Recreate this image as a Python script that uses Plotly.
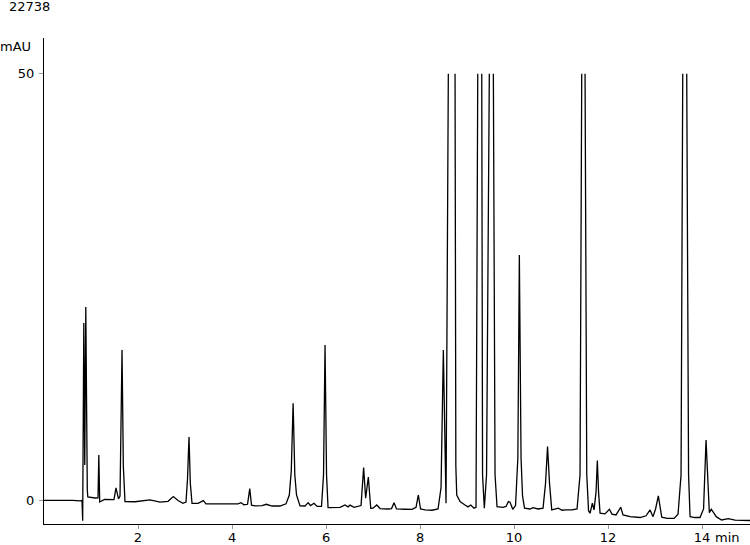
import plotly.graph_objects as go

# Chromatogram trace vertices (time in min, signal in mAU).
# None marks where the tall peaks leave the 50 mAU display window.
time_min = [
    0.00, 0.20, 0.40, 0.60, 0.78, 0.809, 0.823, 0.847, 0.867, 0.889, 0.921, 0.932,
    1.085, 1.149, 1.166, 1.185, 1.287, 1.447, 1.489, 1.532, 1.585, 1.617, 1.660, 1.688, 1.723,
    1.936, 2.255, 2.468, 2.638, 2.751, 2.851, 2.957, 3.021, 3.053, 3.085, 3.113, 3.149,
    3.277, 3.389, 3.447, 3.638, 3.851, 4.128, 4.191, 4.255, 4.330, 4.377, 4.415, 4.489,
    4.638, 4.730, 4.851, 5.021, 5.149, 5.219, 5.261, 5.300, 5.336, 5.372, 5.447,
    5.553, 5.621, 5.670, 5.745, 5.809, 5.904, 5.947, 5.979, 6.011, 6.043,
    6.191, 6.298, 6.404, 6.468, 6.511, 6.596, 6.745, 6.800, 6.843, 6.900, 6.951,
    7.000, 7.079, 7.149, 7.319, 7.394, 7.447, 7.500, 7.681, 7.830, 7.915, 7.964, 8.011,
    8.106, 8.255, 8.383, 8.447, 8.496, 8.553, 8.602, None, 8.745, 8.762, 8.781, 8.851,
    8.957, 9.021, 9.079, 9.149, 9.191, 9.228, None, 9.313, 9.330, 9.368, 9.415, 9.474,
    None, 9.560, 9.596, 9.638, 9.766, 9.830, 9.879, 9.915, 9.972, 10.032, 10.081, 10.113,
    10.149, 10.181, 10.223, 10.340, 10.404, 10.511, 10.617, 10.670, 10.713, 10.755, 10.802,
    10.943, 11.021, 11.106, 11.228, 11.340, 11.404, 11.440, None, 11.511, 11.547, 11.585,
    11.617, 11.666, 11.702, 11.745, 11.772, 11.798, 11.830, 11.936, 12.028, 12.085, 12.170,
    12.270, 12.319, 12.468, 12.681, 12.809, 12.894, 12.957, 13.011, 13.070, 13.143,
    13.255, 13.404, 13.489, 13.553, 13.589, None, 13.674, 13.713, 13.745, 13.851, 13.957,
    14.032, 14.085, 14.134, 14.155, 14.196, 14.302, 14.415, 14.560, 14.702, 14.851, 15.021,
]
signal_mau = [
    0.00, 0.02, -0.03, 0.01, -0.05, 0.00, -2.37, 20.81, 4.16, 22.68, 1.23, 0.41,
    0.29, 0.30, 5.33, -0.18, 0.12, 0.12, 0.10, 1.47, 0.18, 0.50, 17.64, 4.00, -0.14,
    -0.15, 0.06, -0.20, -0.10, 0.45, 0.00, -0.33, -0.20, 2.50, 7.44, 2.00, -0.33,
    -0.35, -0.02, -0.40, -0.41, -0.45, -0.40, -0.26, -0.50, -0.45, 1.38, -0.55, -0.64,
    -0.60, -0.45, -0.65, -0.65, -0.40, 0.64, 3.50, 11.40, 3.00, 0.64, -0.64,
    -0.65, -0.26, -0.60, -0.33, -0.70, -0.70, 3.00, 18.23, 3.00, -0.84,
    -0.80, -0.80, -0.53, -0.75, -0.55, -0.80, -0.60, 3.85, 0.26, 2.75, -0.91,
    -0.90, -0.53, -0.95, -1.00, -0.95, -0.26, -1.00, -1.03, -1.05, -0.80, 0.64, -1.00,
    -1.11, -1.15, -1.00, 1.50, 17.64, -0.33, 50.0, None, 50.0, 4.00, 0.64, -0.14,
    -0.53, -0.75, -0.53, -0.91, -0.80, 50.0, None, 50.0, 3.00, -0.91, 3.00, 50.0,
    None, 50.0, 3.00, -0.73, -0.80, -0.70, -0.14, -0.20, -1.03, -0.60, 5.00, 28.78,
    5.00, 0.50, -0.91, -1.00, -0.85, -1.00, -0.90, 2.00, 6.31, 2.00, -1.11,
    -0.91, -1.15, -1.10, -1.11, -1.00, 3.00, 50.0, None, 50.0, 3.00, -1.20,
    -1.50, -0.33, -1.11, 1.00, 4.67, 1.00, -1.50, -1.58, -1.03, -1.60, -1.70,
    -0.80, -1.70, -1.90, -2.00, -1.80, -1.11, -1.90, -1.00, 0.53, -1.97,
    -2.09, -2.10, -1.60, 3.00, 50.0, None, 50.0, 3.00, -1.90, -2.00, -2.00,
    -1.00, 7.09, 0.00, -1.43, -1.03, -1.90, -2.29, -2.13, -2.30, -2.35, -2.35,
]

x_ticks = [2, 4, 6, 8, 10, 12, 14]
y_ticks = [0, 50]
x_range = [0, 15.02]
y_range = [-2.76, 54.2]

FONT = "DejaVu Sans"

fig = go.Figure()
fig.add_trace(go.Scatter(
    x=time_min, y=signal_mau, mode="lines",
    line=dict(color="#000000", width=1.3),
    connectgaps=False, showlegend=False, hoverinfo="skip",
))

axis_common = dict(
    showgrid=False, zeroline=False, showline=True, linecolor="#000000", linewidth=1,
    ticks="outside", ticklen=4, tickcolor="#999999", tickwidth=1,
    tickfont=dict(family=FONT, size=13, color="#000000"),
)
fig.update_xaxes(range=x_range, tickvals=x_ticks, ticktext=[str(v) for v in x_ticks],
                 ticklabelstandoff=-3, **axis_common)
fig.update_yaxes(range=y_range, tickvals=y_ticks, ticktext=[str(v) for v in y_ticks],
                 ticklabelstandoff=2, **axis_common)

fig.update_layout(
    width=750, height=545,
    margin=dict(l=44, r=0, t=38, b=21, autoexpand=False),
    paper_bgcolor="white", plot_bgcolor="white",
    font=dict(family=FONT, size=13, color="#000000"),
    annotations=[
        dict(text="22738", xref="paper", yref="paper", x=-0.0524, y=1.0658,
             xanchor="left", yanchor="middle", showarrow=False,
             font=dict(family=FONT, size=13, color="#000000")),
        dict(text="mAU", xref="paper", yref="paper", x=-0.0156, y=0.9815,
             xanchor="right", yanchor="middle", showarrow=False,
             font=dict(family=FONT, size=13, color="#000000")),
        dict(text="min", xref="paper", yref="paper", x=0.9476, y=-0.0288,
             xanchor="left", yanchor="middle", showarrow=False,
             font=dict(family=FONT, size=13, color="#000000")),
    ],
)

fig.write_html(
    "out.html",
    config={"displayModeBar": False, "staticPlot": True},
    post_script="document.body.style.margin='0';document.body.style.overflow='hidden';",
)
